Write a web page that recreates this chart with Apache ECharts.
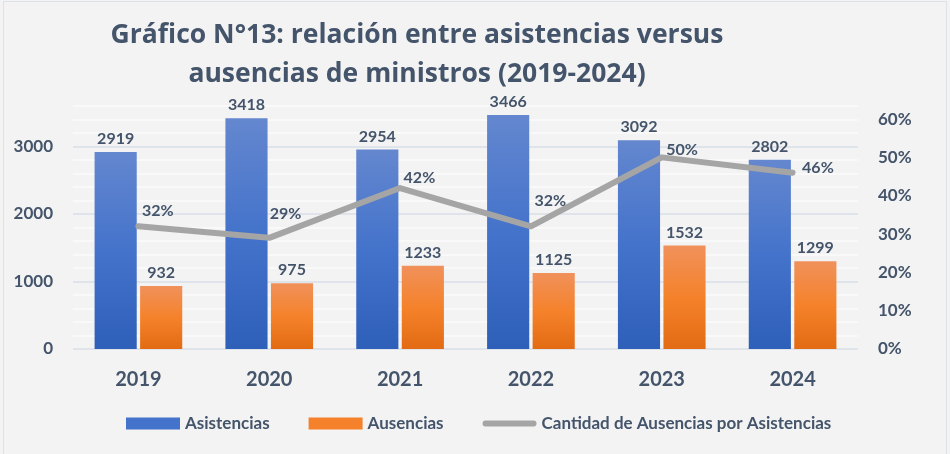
<!DOCTYPE html>
<html>
<head>
<meta charset="utf-8">
<script src="https://cdn.jsdelivr.net/npm/echarts@6/dist/echarts.min.js"></script>
<style>
  html, body { margin: 0; padding: 0; background: #f3f3f3; }
  #chart { position: absolute; left: 3px; top: 1px; width: 944px; height: 460px;
           border: 1px solid #dde1e8; box-sizing: border-box; }
</style>
</head>
<body>
<div id="chart"></div>
<script>
// data
const years = ['2019', '2020', '2021', '2022', '2023', '2024'];
const asistencias = [2919, 3418, 2954, 3466, 3092, 2802];
const ausencias = [932, 975, 1233, 1125, 1532, 1299];
const ratio = [0.32, 0.29, 0.42, 0.32, 0.50, 0.46];

// label nudges for the percentage labels (like the hand-placed ones in the original)
const ratioLabelOffsets = [[3, -16], [0, -24], [3, -10], [3, -26], [4, -8], [9, -5]];

const textColor = '#44546a';
const font = 'Lato';

const chart = echarts.init(document.getElementById('chart'), null, { renderer: 'canvas' });

const blueGrad = new echarts.graphic.LinearGradient(0, 0, 0, 1, [
  { offset: 0, color: '#6487cf' },
  { offset: 0.5, color: '#4473cb' },
  { offset: 1, color: '#2e5fb9' }
]);
const orangeGrad = new echarts.graphic.LinearGradient(0, 0, 0, 1, [
  { offset: 0, color: '#f0915b' },
  { offset: 0.5, color: '#f5822b' },
  { offset: 1, color: '#e26b13' }
]);

const barLabel = {
  show: true,
  position: 'top',
  distance: 5,
  color: textColor,
  fontFamily: font,
  fontWeight: 'bold',
  fontSize: 16
};

// thick rounded bar inside a 56x12 box, used as legend icon for the line
const lineIcon = 'path://M0,0M56,12M3,3L53,3A3,3,0,0,1,53,9L3,9A3,3,0,0,1,3,3Z';

const option = {
  animation: false,
  textStyle: { fontFamily: font },
  title: {
    text: 'Gráfico N°13: relación entre asistencias versus\nausencias de ministros (2019-2024)',
    left: 408,
    top: 9,
    textAlign: 'center',
    textStyle: {
      color: textColor,
      fontFamily: '"Open Sans"',
      fontWeight: 'bold',
      fontSize: 26.5,
      lineHeight: 39
    }
  },
  legend: {
    left: 117,
    top: 408,
    itemWidth: 54,
    itemHeight: 12,
    itemGap: 39,
    textStyle: { color: textColor, fontFamily: font, fontWeight: 'bold', fontSize: 17 },
    data: [
      { name: 'Asistencias', icon: 'rect', itemStyle: { color: '#4473cb' } },
      { name: 'Ausencias', icon: 'rect', itemStyle: { color: '#f5822b' } },
      { name: 'Cantidad de Ausencias por Asistencias', icon: lineIcon,
        itemStyle: { color: '#a5a5a5', borderWidth: 0 } }
    ]
  },
  grid: { left: 69, right: 88, top: 104, bottom: 111 },
  xAxis: {
    type: 'category',
    data: years,
    axisLine: { show: false },
    axisTick: { show: false },
    axisLabel: {
      color: textColor,
      fontFamily: font,
      fontWeight: 'bold',
      fontSize: 20,
      margin: 21
    }
  },
  yAxis: [
    {
      type: 'value',
      min: 0,
      max: 3600,
      interval: 200,
      axisLine: { show: false },
      axisTick: { show: false },
      axisLabel: {
        color: textColor,
        fontFamily: font,
        fontWeight: 'bold',
        fontSize: 17,
        margin: 20,
        formatter: v => (v % 1000 === 0 ? String(v) : '')
      },
      splitLine: {
        lineStyle: {
          width: 2,
          color: ['#dfe3ea', '#f9f9f9', '#f9f9f9', '#f9f9f9', '#f9f9f9']
        }
      }
    },
    {
      type: 'value',
      min: 0,
      max: 0.634,
      interval: 0.1,
      axisLine: { show: false },
      axisTick: { show: false },
      splitLine: { show: false },
      axisLabel: {
        color: textColor,
        fontFamily: font,
        fontWeight: 'bold',
        fontSize: 17,
        margin: 20,
        formatter: v => {
          const t = v * 10;
          return Math.abs(t - Math.round(t)) < 1e-6 ? Math.round(v * 100) + '%' : '';
        }
      }
    }
  ],
  series: [
    {
      name: 'Asistencias',
      type: 'bar',
      data: asistencias,
      barCategoryGap: '33%',
      barGap: '8%',
      itemStyle: { color: blueGrad },
      label: barLabel
    },
    {
      name: 'Ausencias',
      type: 'bar',
      data: ausencias,
      itemStyle: { color: orangeGrad },
      label: barLabel
    },
    {
      name: 'Cantidad de Ausencias por Asistencias',
      type: 'line',
      yAxisIndex: 1,
      data: ratio.map((v, i) => ({
        value: v,
        label: { offset: ratioLabelOffsets[i] }
      })),
      symbol: 'circle',
      symbolSize: 1,
      lineStyle: { color: '#a5a5a5', width: 6, cap: 'round', join: 'round' },
      itemStyle: { color: '#a5a5a5' },
      label: {
        show: true,
        position: 'right',
        distance: 0,
        color: textColor,
        fontFamily: font,
        fontWeight: 'bold',
        fontSize: 16,
        formatter: p => Math.round(p.value * 100) + '%'
      },
      z: 5
    }
  ]
};

chart.setOption(option);
</script>
</body>
</html>
